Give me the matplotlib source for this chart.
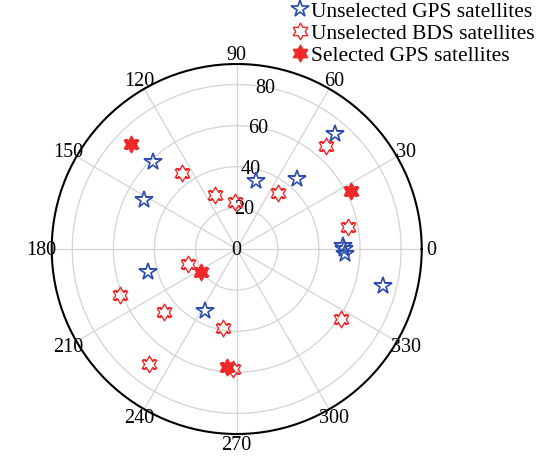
import numpy as np
import matplotlib
matplotlib.use('Agg')
from matplotlib import pyplot as plt
from matplotlib.path import Path
from matplotlib.lines import Line2D

gps_unsel_az = [49.5, 49.6, 74.4, 134.0, 152.0, 194.7, 243.0, 346.0, 1.5, 0.0, 357.6]
gps_unsel_r = [73.8, 45.0, 34.5, 58.8, 50.9, 44.4, 33.7, 73.5, 51.7, 52.3, 52.6]

bds_unsel_az = [49.0, 54.0, 125.6, 112.0, 91.8, 11.3, 197.0, 201.4, 221.0, 260.0, 232.7, 268.3, 326.0]
bds_unsel_r = [66.3, 33.9, 45.5, 28.3, 23.0, 55.2, 25.0, 61.0, 46.7, 39.0, 70.1, 58.2, 61.0]

gps_sel_az = [135.0, 26.9, 213.3, 265.4]
gps_sel_r = [72.4, 62.6, 20.6, 57.5]

labels = ['Unselected GPS satellites', 'Unselected BDS satellites', 'Selected GPS satellites']
rticks = [0, 20, 40, 60, 80]
thetaticks = np.arange(0, 360, 30)

blue = '#2B4CAE'
red = '#F0282A'

plt.rcParams['font.family'] = ['Liberation Serif', 'DejaVu Serif']

# six pointed star (hexagram) marker, point up
ang = np.deg2rad(90 + np.arange(12) * 30)
rad = np.where(np.arange(12) % 2 == 0, 1.0, 1 / np.sqrt(3))
verts = np.column_stack([rad * np.cos(ang), rad * np.sin(ang)])
verts = np.vstack([verts, verts[:1]])
hexagram = Path(verts, [Path.MOVETO] + [Path.LINETO] * 11 + [Path.CLOSEPOLY])

fig = plt.figure(figsize=(5.42, 4.64), dpi=100)
ax = fig.add_axes([0.0954, 0.0625, 0.6827, 0.7974], projection='polar')

ax.plot(np.deg2rad(gps_unsel_az), gps_unsel_r, linestyle='none', marker='*', ms=13,
        mfc='none', mec=blue, mew=1.2, zorder=3)
ax.plot(np.deg2rad(bds_unsel_az), bds_unsel_r, linestyle='none', marker=hexagram, ms=12,
        mfc='none', mec=red, mew=1.0, zorder=3)
ax.plot(np.deg2rad(gps_sel_az), gps_sel_r, linestyle='none', marker=hexagram, ms=12,
        mfc=red, mec=red, mew=1.0, zorder=4)

ax.set_ylim(0, 90)
ax.set_rticks(rticks)
ax.set_yticklabels([str(v) for v in rticks])
ax.set_rlabel_position(80)
ax.set_thetagrids(thetaticks, [str(v) for v in thetaticks])
ax.tick_params(axis='x', labelsize=14.5, pad=-3.3)
ax.tick_params(axis='y', labelsize=14.5)
for lab in ax.get_yticklabels():
    lab.set_ha('center')
    lab.set_va('center')
ax.grid(True, color='#D3D3D3', linewidth=0.9)
ax.spines['polar'].set_linewidth(1.5)
ax.spines['polar'].set_color('black')

handles = [Line2D([0], [0], linestyle='none', marker='*', ms=13, mfc='none', mec=blue, mew=1.2),
           Line2D([0], [0], linestyle='none', marker=hexagram, ms=12, mfc='none', mec=red, mew=1.0),
           Line2D([0], [0], linestyle='none', marker=hexagram, ms=12, mfc=red, mec=red, mew=1.0)]
fig.legend(handles, labels, loc='upper left', bbox_to_anchor=(291 / 542, 1 - 2 / 464),
           frameon=False, fontsize=15.5, borderpad=0, borderaxespad=0,
           handlelength=0.8, handletextpad=0.15, labelspacing=0.09)

fig.savefig('out.png', dpi=100)
